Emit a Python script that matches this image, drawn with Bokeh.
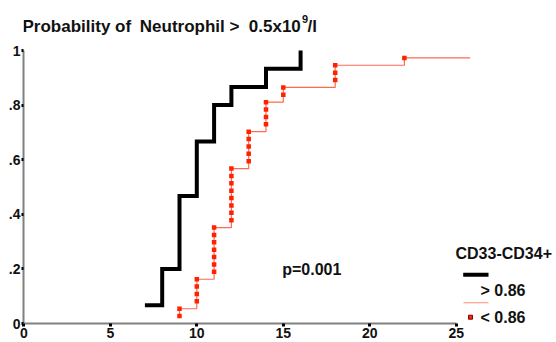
from bokeh.plotting import figure
from bokeh.models import Range1d, Label, BoxAnnotation, FixedTicker
from bokeh.embed import file_html
from bokeh.resources import INLINE
import numpy as np

# ---------------- data ----------------
hi_times = [7, 8, 9, 10, 11, 12, 14, 16]
hi_n = 15
hi_cum_events = [1, 3, 7, 10, 12, 13, 14, 15]

lo_times = [9, 10, 11, 12, 13, 14, 15, 18, 22]
lo_events = [2, 4, 7, 8, 5, 4, 2, 3, 1]
lo_n = 37
lo_last_followup = 25.8

x_ticks = [0, 5, 10, 15, 20, 25]
y_ticks = [0.0, 0.2, 0.4, 0.6, 0.8, 1.0]
y_tick_labels = ["0", ".2", ".4", ".6", ".8", "1"]

title_parts = ["Probability of", "Neutrophil >", "0.5x10"]
title_sup = "9"
title_tail = "/l"
p_text = "p=0.001"
legend_title = "CD33-CD34+"
legend_labels = ["> 0.86", "< 0.86"]

# ---------------- derived curves ----------------
hi_surv = [c / hi_n for c in hi_cum_events]

lo_cum = np.cumsum(lo_events)
lo_x = [lo_times[0]] + list(lo_times) + [lo_last_followup]
lo_y = [1 / lo_n] + [c / lo_n for c in lo_cum] + [lo_cum[-1] / lo_n]
mk_x, mk_y = [], []
prev = 0
for t, c in zip(lo_times, lo_cum):
    for k in range(prev + 1, c + 1):
        mk_x.append(t)
        mk_y.append(k / lo_n)
    prev = c

# ---------------- layout constants (pixels) ----------------
W, H = 556, 342
L = 23          # frame left
B = 323         # frame bottom (y = 0)
x0px = 23.3
kx = 17.3
ky = 273.0
x_start = (L - x0px) / kx
x_end = x_start + (W - L) / kx
y_end = B / ky


def dx(px):
    return x_start + (px - L) / kx


def dy(py):
    return (B - py) / ky


p = figure(width=W, height=H, x_range=Range1d(x_start, x_end),
           y_range=Range1d(0, y_end), output_backend="svg",
           toolbar_location=None, min_border_left=L, min_border_right=0,
           min_border_top=0, min_border_bottom=H - B)
p.outline_line_color = None
p.xgrid.visible = False
p.ygrid.visible = False
p.background_fill_color = "white"
p.border_fill_color = "white"

for ax in (p.xaxis[0], p.yaxis[0]):
    ax.axis_line_color = "#808080"
    ax.axis_line_width = 2
    ax.major_tick_line_color = "black"
    ax.major_tick_line_width = 3
    ax.major_tick_in = 0
    ax.minor_tick_line_color = None
    ax.major_label_text_font = "Liberation Sans"
    ax.major_label_text_font_style = "bold"
    ax.major_label_text_color = "#111111"

p.xaxis.ticker = FixedTicker(ticks=x_ticks)
p.xaxis.bounds = (0, 25)
p.xaxis.major_tick_out = 3
p.xaxis.major_label_standoff = 1
p.xaxis.major_label_text_font_size = "14px"

p.yaxis.ticker = FixedTicker(ticks=y_ticks)
p.yaxis.major_label_overrides = dict(zip(y_ticks, y_tick_labels))
p.yaxis.bounds = (0, 1)
p.yaxis.major_tick_out = 2
p.yaxis.major_label_standoff = 1
p.yaxis.major_label_text_font_size = "14px"

# curves
p.step(hi_times, hi_surv, mode="after", line_width=4, line_color="black",
       line_join="miter")
p.step(lo_x, lo_y, mode="after", line_width=1.2, line_color="#ff6a50")
p.scatter(mk_x, mk_y, marker="square", size=4.5, fill_color="#ff2200",
          line_color=None)

# texts
def lab(px, py, text, size, shift):
    p.add_layout(Label(x=dx(px), y=dy(py - shift), text=text,
                       text_font="Liberation Sans", text_font_style="bold",
                       text_font_size=size, text_color="#111111",
                       text_baseline="alphabetic"))


lab(22, 26, title_parts[0], "17px", 0)
lab(139.3, 26, title_parts[1], "17px", 0)
lab(248.3, 26, title_parts[2], "17px", 0)
lab(301.5, 18.5, title_sup, "11px", 0)
lab(307, 26, title_tail, "17px", 0)
lab(281.7, 272, p_text, "16px", 3)
lab(455, 258, legend_title, "16px", 5)
lab(480, 295, legend_labels[0], "16px", 5)
lab(480, 322.7, legend_labels[1], "16px", 6)

# legend samples
p.add_layout(BoxAnnotation(left=dx(462.7), right=dx(488), top=dy(272.3), bottom=dy(276.3),
                           fill_color="black", fill_alpha=1, line_color=None))
p.add_layout(BoxAnnotation(left=dx(463), right=dx(488), top=dy(301.8), bottom=dy(302.8),
                           fill_color="#ff8a75", fill_alpha=1, line_color=None))
p.add_layout(BoxAnnotation(left=dx(468), right=dx(472), top=dy(314.7), bottom=dy(318.7),
                           fill_color="#ff2200", fill_alpha=1, line_color="#8b0000",
                           line_alpha=1, line_width=1))

open("out.html", "w").write(file_html(p, INLINE))
